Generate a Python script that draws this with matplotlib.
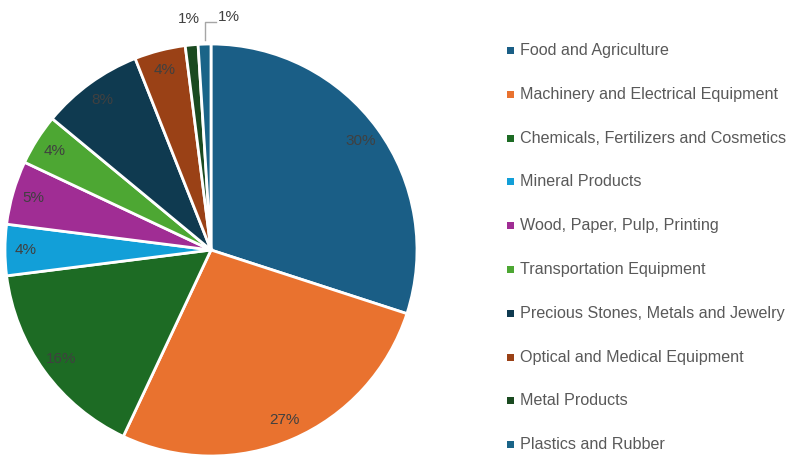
import matplotlib
matplotlib.use("Agg")
import matplotlib.pyplot as plt
from matplotlib.patches import Rectangle
import numpy as np

categories = ["Food and Agriculture", "Machinery and Electrical Equipment",
              "Chemicals, Fertilizers and Cosmetics", "Mineral Products",
              "Wood, Paper, Pulp, Printing", "Transportation Equipment",
              "Precious Stones, Metals and Jewelry", "Optical and Medical Equipment",
              "Metal Products", "Plastics and Rubber"]
shares = [30, 27, 16, 4, 5, 4, 8, 4, 1, 1]
colors = ["#1a5e86", "#e9722f", "#1d6b24", "#129fd8", "#a02d94",
          "#4da733", "#0f3a50", "#9a4116", "#1a4a20", "#1a6488"]

plt.rcParams['font.family'] = ['Liberation Sans', 'DejaVu Sans']

W, H = 794, 458
fig = plt.figure(figsize=(W / 100, H / 100), dpi=100)
cx, cy, r = 211, 250, 206
ax = fig.add_axes([(cx - r) / W, (H - cy - r) / H, 2 * r / W, 2 * r / H])

wedges, _ = ax.pie(shares, colors=colors, startangle=90, counterclock=False,
                   radius=1.0, wedgeprops=dict(edgecolor="white", linewidth=2))
ax.set_xlim(-1, 1)
ax.set_ylim(-1, 1)
ax.set_aspect("equal")
ax.axis("off")

label_color = "#404040"
for i, (w, v) in enumerate(zip(wedges, shares)):
    mid = np.deg2rad((w.theta1 + w.theta2) / 2)
    if v >= 2:
        d = 0.9
        ax.text(d * np.cos(mid), d * np.sin(mid), f"{v}%", ha="center", va="center",
                fontsize=11, color=label_color)

# small slices labelled outside
w_plast = wedges[9]
ax.text(-0.105, 1.12, f"{shares[8]}%", ha="center", va="center", fontsize=11,
        color=label_color)
ax.text(0.085, 1.13, f"{shares[9]}%", ha="center", va="center", fontsize=11,
        color=label_color)
mid = np.deg2rad((w_plast.theta1 + w_plast.theta2) / 2)
x0 = np.cos(mid)
ax.plot([x0, x0, 0.025], [1.02, 1.105, 1.105], color="#a6a6a6", lw=1,
        clip_on=False)

# legend
tx = 520
for i, cat in enumerate(categories):
    yc = 50.5 + i * 43.8
    fig.add_artist(Rectangle(((tx - 13) / W, (H - yc - 3.5) / H), 7 / W, 7 / H,
                             transform=fig.transFigure, facecolor=colors[i],
                             edgecolor="none"))
    fig.text(tx / W, (H - yc) / H, cat, ha="left", va="center", fontsize=11.6,
             color="#595959")

fig.savefig("out.png", dpi=100)
